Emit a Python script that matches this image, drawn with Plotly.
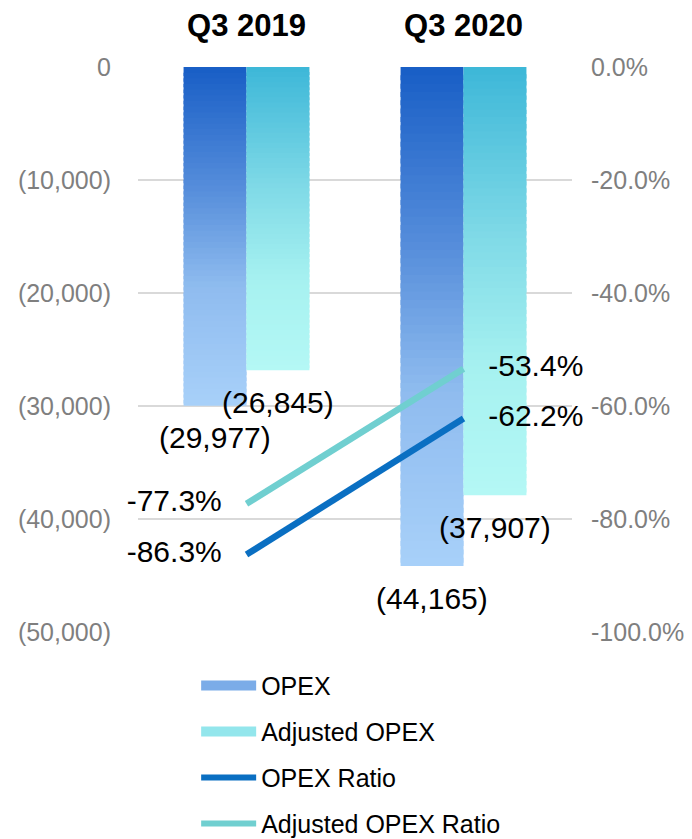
import plotly.graph_objects as go

# ---------------- data ----------------
categories = ["Q3 2019", "Q3 2020"]
opex = [-29977, -44165]
adj_opex = [-26845, -37907]
opex_labels = ["(29,977)", "(44,165)"]
adj_opex_labels = ["(26,845)", "(37,907)"]
opex_ratio = [-0.863, -0.622]
adj_opex_ratio = [-0.773, -0.534]
opex_ratio_labels = ["-86.3%", "-62.2%"]
adj_opex_ratio_labels = ["-77.3%", "-53.4%"]
y_tickvals = [0, -10000, -20000, -30000, -40000, -50000]
y_ticktext = ["0", "(10,000)", "(20,000)", "(30,000)", "(40,000)", "(50,000)"]
y2_tickvals = [0, -0.2, -0.4, -0.6, -0.8, -1.0]
y2_ticktext = ["0.0%", "-20.0%", "-40.0%", "-60.0%", "-80.0%", "-100.0%"]

# ---------------- style ----------------
FONT = "Liberation Sans, Arial, sans-serif"
OPEX_STOPS = [(0.0, (24, 94, 198)), (0.35, (84, 140, 218)), (0.65, (143, 188, 239)), (1.0, (168, 208, 249))]
ADJ_STOPS = [(0.0, (61, 183, 216)), (0.4, (128, 218, 231)), (0.7, (166, 241, 240)), (1.0, (180, 248, 245))]
OPEX_RATIO_COLOR = "#0A6FC2"
ADJ_RATIO_COLOR = "#70CFD0"
N_SEG = 60
BARGAP = 0.42
FIG_W, FIG_H = 684, 831          # page body adds an 8px offset
M_L, M_R, M_T, M_B = 130, 120, 59, 207
PLOT_W = FIG_W - M_L - M_R
HALF_BAR_PX = PLOT_W / len(categories) * (1 - BARGAP) / 4


def grad(stops, t):
    for (t0, c0), (t1, c1) in zip(stops[:-1], stops[1:]):
        if t <= t1:
            f = (t - t0) / (t1 - t0) if t1 > t0 else 0
            c = [round(a + (b - a) * f) for a, b in zip(c0, c1)]
            return "rgb(%d,%d,%d)" % tuple(c)
    return "rgb(%d,%d,%d)" % stops[-1][1]


fig = go.Figure()


def gradient_bars(values, stops, group):
    for k in range(N_SEG):
        base = [v * k / N_SEG for v in values]
        top = [v * min(k + 1.6, N_SEG) / N_SEG for v in values]
        fig.add_trace(go.Bar(
            x=categories, y=[t - b for t, b in zip(top, base)], base=base,
            offsetgroup=group, marker=dict(color=grad(stops, (k + 0.5) / N_SEG), line=dict(width=0)),
            showlegend=False, hoverinfo="skip"))


gradient_bars(opex, OPEX_STOPS, "opex")
gradient_bars(adj_opex, ADJ_STOPS, "adj")

# data labels under the bar ends
annotations = []
for vals, labels, side in [(opex, opex_labels, -1), (adj_opex, adj_opex_labels, 1)]:
    for cat, v, lab in zip(categories, vals, labels):
        annotations.append(dict(
            x=cat, y=v, xref="x", yref="y", text=lab, showarrow=False,
            xanchor="center", yanchor="middle", xshift=side * HALF_BAR_PX, yshift=-32,
            font=dict(size=30, color="black", family=FONT)))

# ratio lines
for vals, labels, color, name in [
    (opex_ratio, opex_ratio_labels, OPEX_RATIO_COLOR, "OPEX Ratio"),
    (adj_opex_ratio, adj_opex_ratio_labels, ADJ_RATIO_COLOR, "Adjusted OPEX Ratio"),
]:
    fig.add_trace(go.Scatter(
        x=categories, y=vals, yaxis="y2", mode="lines+markers+text",
        line=dict(color=color, width=6.5), marker=dict(size=38, color="rgba(0,0,0,0)"),
        text=labels, textposition=["middle left", "middle right"],
        textfont=dict(size=30, color="black", family=FONT),
        name=name, showlegend=False, cliponaxis=False, hoverinfo="skip"))

# legend entries
legend_items = [
    ("OPEX", grad(OPEX_STOPS, 0.55), 13),
    ("Adjusted OPEX", grad(ADJ_STOPS, 0.55), 13),
    ("OPEX Ratio", OPEX_RATIO_COLOR, 6),
    ("Adjusted OPEX Ratio", ADJ_RATIO_COLOR, 6),
]
for i, (name, color, w) in enumerate(legend_items):
    fig.add_trace(go.Scatter(x=[None], y=[None], mode="lines", name=name,
                             line=dict(color=color, width=w), legendgroup="g%d" % i))

fig.update_layout(
    width=FIG_W, height=FIG_H,
    margin=dict(l=M_L, r=M_R, t=M_T, b=M_B, autoexpand=False),
    paper_bgcolor="white", plot_bgcolor="white",
    barmode="group", bargap=BARGAP, bargroupgap=0,
    font=dict(family=FONT),
    annotations=annotations,
    xaxis=dict(side="top", showgrid=False, showline=False, ticks="", ticklabelstandoff=24,
               automargin=False,
               tickfont=dict(size=31, color="black", family=FONT, weight="bold")),
    yaxis=dict(range=[-50000, 0], tickvals=y_tickvals, ticktext=y_ticktext, automargin=False,
               gridcolor="#D9D9D9", gridwidth=1.5, zeroline=False, showline=False,
               ticklabelstandoff=26, tickfont=dict(size=25, color="#7F7F7F", family=FONT)),
    yaxis2=dict(range=[-1, 0], overlaying="y", side="right", tickvals=y2_tickvals, automargin=False,
                ticktext=y2_ticktext, showgrid=False, zeroline=False, showline=False,
                ticklabelstandoff=18, tickfont=dict(size=25, color="#7F7F7F", family=FONT)),
    legend=dict(orientation="v", x=0.134, xanchor="left", y=0.212, yref="container", yanchor="top",
                font=dict(size=25, color="black", family=FONT), itemwidth=55,
                tracegroupgap=10.5, bgcolor="rgba(0,0,0,0)"),
    showlegend=True,
)

fig.write_html("out.html")
